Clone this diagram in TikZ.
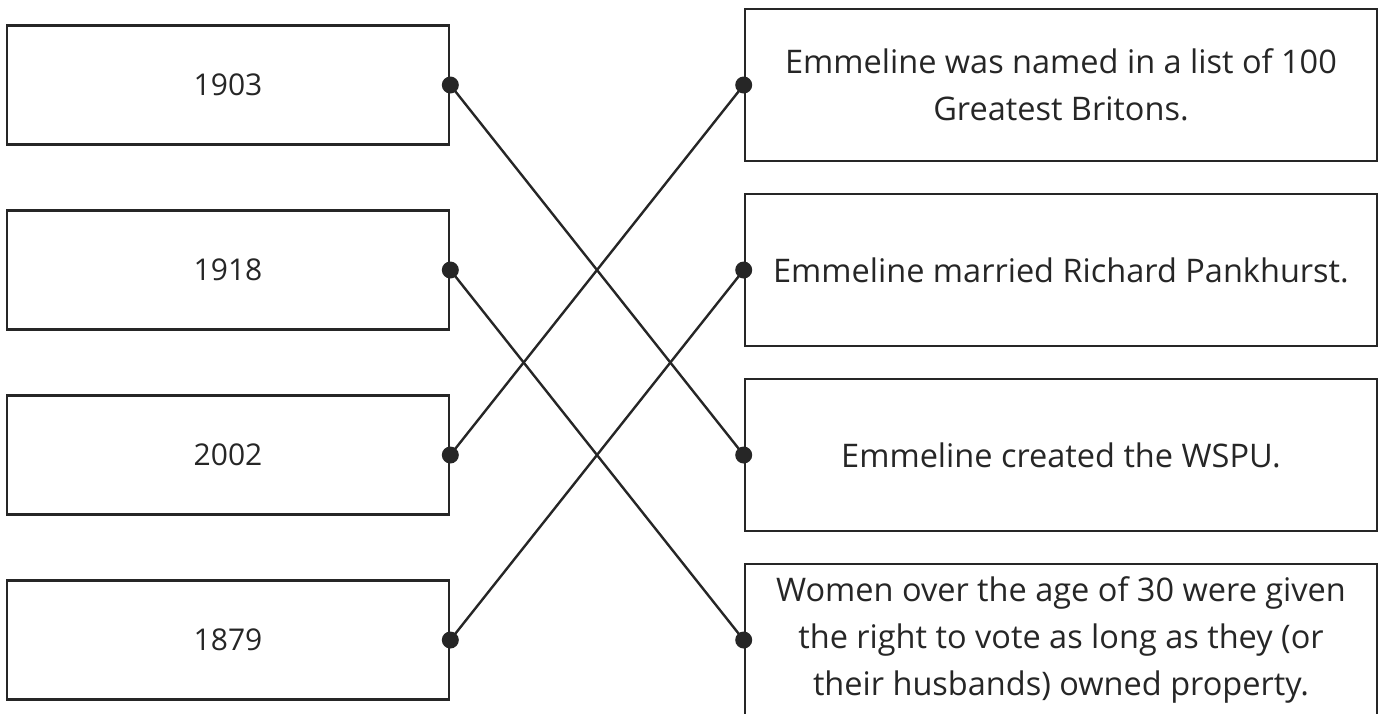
\documentclass[tikz,border=0pt]{standalone}
\usepackage{fontspec}
\setmainfont{Open Sans}
\usepackage{xcolor}
\usepackage{tikz}
\definecolor{ink}{HTML}{262626}

\begin{document}
\begin{tikzpicture}[x=1pt, y=-1pt,
        datebox/.style={draw=ink, line width=2.6pt, minimum width=442pt, minimum height=119pt, inner sep=0pt, text=ink, font=\fontsize{30}{47}\selectfont},
        factbox/.style={draw=ink, line width=2.6pt, minimum width=632pt, minimum height=152pt, inner sep=0pt, text=ink, align=center, font=\fontsize{32.5}{47}\selectfont},
        link/.style={draw=ink, line width=2.4pt}]
        \useasboundingbox (0, 0) rectangle (1383, 713);

        \node[datebox] (d1903) at (228, 85) {1903};
        \node[datebox] (d1918) at (228, 270) {1918};
        \node[datebox] (d2002) at (228, 455) {2002};
        \node[datebox] (d1879) at (228, 640) {1879};

        %%%

        \node[factbox] (britons) at (1061, 85) {Emmeline was named in a list of 100\\Greatest Britons.};
        \node[factbox] (married) at (1061, 270) {Emmeline married Richard Pankhurst.};
        \node[factbox] (wspu) at (1061, 455) {Emmeline created the WSPU.};
        \node[factbox] (vote) at (1061, 640) {Women over the age of 30 were given\\the right to vote as long as they (or\\their husbands) owned property.};

        %%%

        \draw[link] (d1903.east) -- (wspu.west);
        \draw[link] (d1918.east) -- (vote.west);
        \draw[link] (d2002.east) -- (britons.west);
        \draw[link] (d1879.east) -- (married.west);

        \foreach \n in {d1903, d1918, d2002, d1879}
            \fill[ink] (\n.east) circle (8.5);
        \foreach \n in {britons, married, wspu, vote}
            \fill[ink] (\n.west) circle (8.5);
    \end{tikzpicture}
\end{document}
